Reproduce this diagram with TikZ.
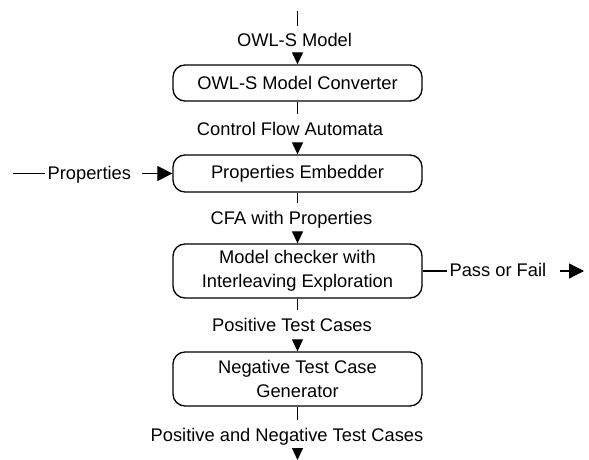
\documentclass[tikz,border=0pt]{standalone}
\usepackage{fontspec}
\setmainfont{Liberation Sans}
\usetikzlibrary{arrows.meta, positioning}

\begin{document}
\begin{tikzpicture}[x=1pt, y=-1pt, >={Triangle[width=11pt,length=12pt]}, line width=1.2pt,
  font=\fontsize{18.3}{24}\selectfont,
  stage/.style={draw, rounded corners=12pt, minimum width=249pt, align=center, inner sep=0pt, line width=1.3pt},
  flowlabel/.style={text height=14pt, text depth=3pt, inner xsep=2pt, inner ysep=6pt},
  sidearrow/.style={-{Triangle[width=15pt,length=15pt]}}]
  \useasboundingbox (0,0) rectangle (589,460);

  % processing stages
  \node[stage, minimum height=36pt] (conv) at (297.5,83) {OWL-S Model Converter};
  \node[stage, minimum height=37pt] (embed) at (297.5,173.5) {Properties Embedder};
  \node[stage, minimum height=54pt] (check) at (297.5,271) {Model checker with\\Interleaving Exploration};
  \node[stage, minimum height=54pt] (neg) at (297.5,379) {Negative Test Case\\Generator};

  % data passed between stages
  \node[flowlabel, anchor=base] (owl) at (294.5,47) {OWL-S Model};
  \node[flowlabel, anchor=base] (cfa) at (290,135) {Control Flow Automata};
  \node[flowlabel, anchor=base] (cfaprop) at (291.5,224) {CFA with Properties};
  \node[flowlabel, anchor=base] (pos) at (292,331) {Positive Test Cases};
  \node[flowlabel, anchor=base] (posneg) at (287,441) {Positive and Negative Test Cases};
  \node[flowlabel, anchor=west] (props) at (45,173.5) {Properties};
  \node[flowlabel, anchor=west] (pass) at (447,271) {Pass or Fail};

  \coordinate (src) at (297.5,11);
  \coordinate (sink) at (297.5,460);
  \coordinate (propsrc) at (13,173.5);
  \coordinate (passout) at (584,271);

  \draw (src) -- (src |- owl.north);
  \draw[->] (conv.north |- owl.south) -- (conv.north);
  \draw (conv.south) -- (conv.south |- cfa.north);
  \draw[->] (embed.north |- cfa.south) -- (embed.north);
  \draw (embed.south) -- (embed.south |- cfaprop.north);
  \draw[->] (check.north |- cfaprop.south) -- (check.north);
  \draw (check.south) -- (check.south |- pos.north);
  \draw[->] (neg.north |- pos.south) -- (neg.north);
  \draw (neg.south) -- (neg.south |- posneg.north);
  \draw[->] (sink |- posneg.south) -- (sink);

  \draw (propsrc) -- (props.west);
  \draw[sidearrow] ([xshift=8pt]props.east) -- (embed.west);
  \draw (check.east) -- (pass.west);
  \draw[sidearrow] ([xshift=11pt]pass.east) -- (passout);
\end{tikzpicture}
\end{document}
